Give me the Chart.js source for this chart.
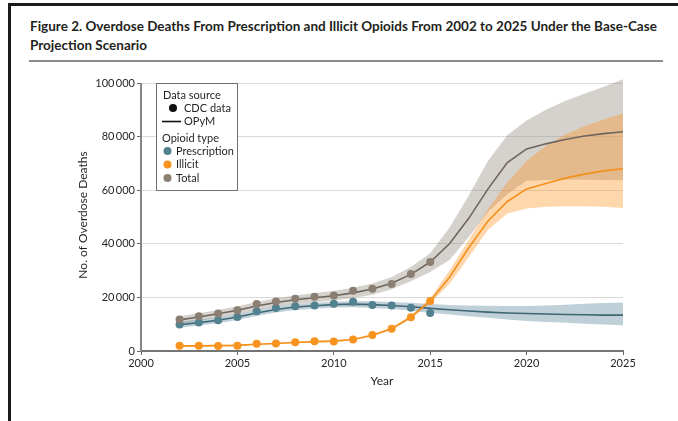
<!DOCTYPE html>
<html>
<head>
<meta charset="utf-8">
<script src="https://cdn.jsdelivr.net/npm/chart.js@4.4.1/dist/chart.umd.min.js"></script>
<style>
    html, body { margin: 0; padding: 0; background: #fff; }
    body { width: 678px; height: 421px; position: relative; overflow: hidden; }
    .frame { position: absolute; left: 8px; top: 3px; right: 0; bottom: 0; border-top: 3px solid #1a1a1a; border-left: 3px solid #1a1a1a; }
    .title { position: absolute; left: 30px; top: 17px; font: bold 13.5px Lato, sans-serif; line-height: 19px; color: #231f20; white-space: nowrap; }
    .rule { position: absolute; left: 29px; top: 60px; width: 634px; height: 2px; background: #8c8c8c; }
    #chart { position: absolute; left: 0; top: 0; }
</style>
</head>
<body>
<div class="frame"></div>
<div class="title">Figure 2. Overdose Deaths From Prescription and Illicit Opioids From 2002 to 2025 Under the Base-Case<br>Projection Scenario</div>
<div class="rule"></div>
<canvas id="chart" width="678" height="421"></canvas>
<script>
// CDC observed deaths
const cdcYears = [2002, 2003, 2004, 2005, 2006, 2007, 2008, 2009, 2010, 2011, 2012, 2013, 2014, 2015];
const cdcPrescription = [9900, 10600, 11500, 12700, 14800, 16000, 16700, 17000, 17600, 18400, 17200, 17000, 16100, 14200];
const cdcIllicit = [2000, 2000, 1900, 2000, 2700, 2800, 3300, 3600, 3500, 4300, 6000, 8300, 12600, 18700];
const cdcTotal = [11800, 13000, 14000, 15200, 17500, 18500, 19500, 20200, 20700, 22500, 23200, 25000, 28700, 33200];

// OPyM model + uncertainty bands
const modelYears = [2002, 2003, 2004, 2005, 2006, 2007, 2008, 2009, 2010, 2011, 2012, 2013,
    2014, 2015, 2016, 2017, 2018, 2019, 2020, 2021, 2022, 2023, 2024, 2025];
const modelPrescription = [9800, 10600, 11500, 12700, 14200, 15500, 16400, 16900, 17300, 17500, 17300, 17000,
    16500, 15900, 15400, 14900, 14500, 14200, 14000, 13800, 13600, 13500, 13400, 13400];
const prescriptionHigh = [10900, 11700, 12600, 13800, 15300, 16600, 17500, 18000, 18400, 18700, 18600, 18300,
    18000, 17500, 17200, 17000, 16900, 16800, 16800, 17000, 17300, 17600, 17900, 18100];
const prescriptionLow = [8700, 9500, 10400, 11600, 13100, 14400, 15300, 15800, 16200, 16300, 16000, 15700,
    15000, 14200, 13600, 13000, 12400, 11800, 11200, 10800, 10500, 10200, 9900, 9600];
const modelIllicit = [1900, 1900, 2000, 2100, 2500, 2800, 3200, 3500, 3700, 4300, 5900, 8300,
    12600, 18700, 27500, 38500, 48500, 55800, 60500, 62500, 64500, 66000, 67200, 68000];
const illicitHigh = [2200, 2200, 2300, 2400, 2800, 3100, 3500, 3800, 4000, 4600, 6300, 8800,
    13300, 19700, 30000, 41500, 53000, 63000, 71000, 76500, 80800, 83900, 86400, 88700];
const illicitLow = [1600, 1600, 1700, 1800, 2200, 2500, 2900, 3200, 3400, 4000, 5500, 7800,
    12000, 17800, 25000, 35000, 45200, 51300, 53200, 53800, 54000, 54000, 53800, 53400];
const modelTotal = [11600, 12700, 13900, 15200, 16800, 18100, 19100, 19900, 20600, 21700, 23100, 25300,
    28600, 33200, 40000, 49500, 60500, 70300, 75400, 77300, 78900, 80200, 81100, 81800];
const totalHigh = [13000, 14100, 15300, 16700, 18300, 19700, 20700, 21600, 22400, 23600, 25200, 27600,
    31300, 36500, 46000, 58000, 71000, 80500, 86000, 90000, 93300, 96000, 98600, 101400];
const totalLow = [10200, 11300, 12500, 13700, 15300, 16500, 17500, 18200, 18800, 19800, 21000, 23000,
    26000, 29500, 34000, 42500, 52000, 58500, 63500, 63800, 63900, 63900, 63800, 63700];

const xTicks = [2000, 2005, 2010, 2015, 2020, 2025];
const yTicks = [0, 20000, 40000, 60000, 80000, 100000];

const colors = {
    prescription: '#52818f',
    prescriptionLine: '#3e6773',
    prescriptionBand: 'rgba(80,125,150,0.36)',
    illicit: '#f7931e',
    illicitLine: '#f4901c',
    illicitBand: 'rgba(252,150,40,0.38)',
    total: '#8b7e72',
    totalLine: '#6f665e',
    totalBand: 'rgba(150,140,128,0.4)',
};

function pairs(xs, ys) {
    return xs.map((x, i) => ({x: x, y: ys[i]}));
}

function bandSets(high, low, color, order) {
    return [{
        data: pairs(modelYears, high),
        borderColor: 'transparent',
        backgroundColor: color,
        pointRadius: 0,
        fill: '+1',
        order: order,
    }, {
        data: pairs(modelYears, low),
        borderColor: 'transparent',
        pointRadius: 0,
        fill: false,
        order: order,
    }];
}

function modelSet(values, color) {
    return {
        data: pairs(modelYears, values),
        borderColor: color,
        borderWidth: 1.6,
        pointRadius: 0,
        fill: false,
        order: 1,
    };
}

function cdcSet(values, color) {
    return {
        data: pairs(cdcYears, values),
        showLine: false,
        pointRadius: 4,
        pointBackgroundColor: color,
        pointBorderWidth: 0,
        order: 0,
    };
}

const datasets = [
    ...bandSets(totalHigh, totalLow, colors.totalBand, 5),
    ...bandSets(illicitHigh, illicitLow, colors.illicitBand, 4),
    ...bandSets(prescriptionHigh, prescriptionLow, colors.prescriptionBand, 3),
    modelSet(modelTotal, colors.totalLine),
    modelSet(modelIllicit, colors.illicitLine),
    modelSet(modelPrescription, colors.prescriptionLine),
    cdcSet(cdcTotal, colors.total),
    cdcSet(cdcIllicit, colors.illicit),
    cdcSet(cdcPrescription, colors.prescription),
];

// y axis line only runs from 0 to the top tick
const yAxisLine = {
    id: 'yAxisLine',
    beforeDatasetsDraw(chart) {
        const {ctx, chartArea, scales} = chart;
        ctx.save();
        ctx.strokeStyle = '#858585';
        ctx.lineWidth = 2;
        ctx.beginPath();
        ctx.moveTo(chartArea.left, scales.y.getPixelForValue(0) + 1);
        ctx.lineTo(chartArea.left, scales.y.getPixelForValue(yTicks[yTicks.length - 1]));
        ctx.stroke();
        ctx.restore();
    }
};

const boxLegend = {
    id: 'boxLegend',
    afterDatasetsDraw(chart) {
        const {ctx, chartArea, scales} = chart;
        const left = chartArea.left + 15;
        const top = scales.y.getPixelForValue(100000);
        ctx.save();
        ctx.fillStyle = '#fff';
        ctx.fillRect(left, top, 81, 107);
        ctx.strokeStyle = '#707070';
        ctx.lineWidth = 1;
        ctx.strokeRect(left + 0.5, top + 0.5, 81, 107);

        ctx.font = '11px Lato, sans-serif';
        ctx.textBaseline = 'middle';
        ctx.textAlign = 'left';
        ctx.fillStyle = '#231f20';
        ctx.fillText('Data source', left + 7, top + 12);

        ctx.beginPath();
        ctx.arc(left + 17, top + 25, 4, 0, Math.PI * 2);
        ctx.fillStyle = '#111';
        ctx.fill();
        ctx.fillStyle = '#231f20';
        ctx.fillText('CDC data', left + 28, top + 25);

        ctx.strokeStyle = '#111';
        ctx.lineWidth = 1.6;
        ctx.beginPath();
        ctx.moveTo(left + 6, top + 38.5);
        ctx.lineTo(left + 25, top + 38.5);
        ctx.stroke();
        ctx.fillText('OPyM', left + 28, top + 38.5);

        ctx.fillText('Opioid type', left + 6, top + 55);
        const items = [['Prescription', colors.prescription], ['Illicit', colors.illicit], ['Total', colors.total]];
        items.forEach((item, i) => {
            const y = top + 68 + i * 13.5;
            ctx.beginPath();
            ctx.arc(left + 11.5, y, 4, 0, Math.PI * 2);
            ctx.fillStyle = item[1];
            ctx.fill();
            ctx.fillStyle = '#231f20';
            ctx.fillText(item[0], left + 20, y);
        });
        ctx.restore();
    }
};

const ctx = document.getElementById('chart').getContext('2d');
const myChart = new Chart(ctx, {
    type: 'line',
    data: {datasets: datasets},
    options: {
        responsive: false,
        animation: false,
        devicePixelRatio: 1,
        layout: {padding: {top: 79, right: 55, bottom: 0, left: 0}},
        plugins: {
            legend: {display: false},
            tooltip: {enabled: false},
        },
        scales: {
            x: {
                type: 'linear',
                min: 2000,
                max: 2025,
                afterBuildTicks: scale => { scale.ticks = xTicks.map(v => ({value: v})); },
                ticks: {
                    padding: 2,
                    color: '#231f20',
                    font: {family: 'Lato', size: 11},
                    callback: v => String(v),
                },
                grid: {drawOnChartArea: false, drawTicks: true, tickLength: 4, tickColor: '#666'},
                border: {display: true, color: '#747474', width: 2},
                title: {
                    display: true,
                    text: 'Year',
                    color: '#231f20',
                    font: {family: 'Lato', size: 12},
                    padding: {top: 0, bottom: 33},
                },
                afterFit: scale => { scale.height = 70; },
            },
            y: {
                type: 'linear',
                min: 0,
                max: 101500,
                afterBuildTicks: scale => { scale.ticks = yTicks.map(v => ({value: v})); },
                ticks: {
                    padding: 2,
                    color: '#231f20',
                    font: {family: 'Lato', size: 11},
                    callback: v => v.toLocaleString('en-US').replace(',', '\u2009'),
                },
                grid: {color: '#dadada', lineWidth: 1, drawTicks: true, tickLength: 4, tickColor: '#666'},
                border: {display: false},
                title: {
                    display: true,
                    text: 'No. of Overdose Deaths',
                    color: '#231f20',
                    font: {family: 'Lato', size: 12},
                    padding: {top: 76, bottom: 0},
                },
                afterFit: scale => { scale.width = 141; },
            },
        },
    },
    plugins: [yAxisLine, boxLegend],
});
</script>
</body>
</html>
